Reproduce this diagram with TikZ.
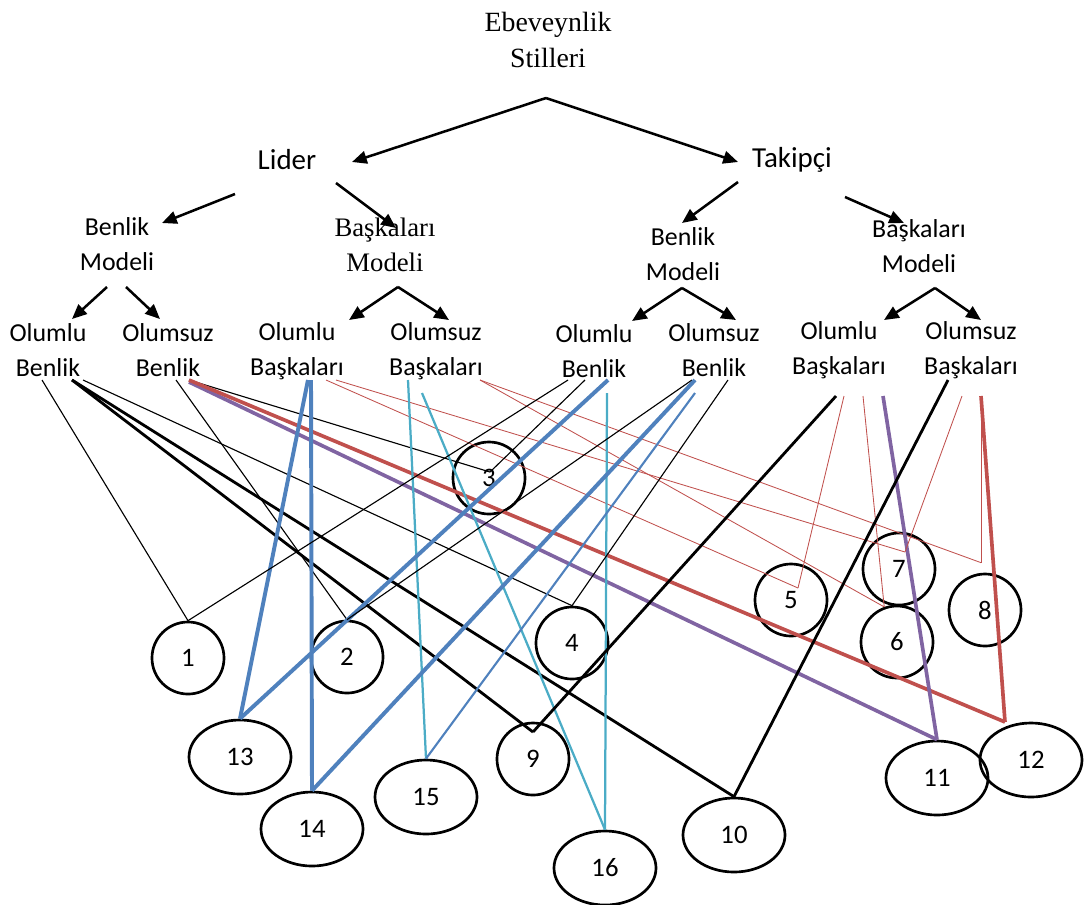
\documentclass[tikz,border=0pt]{standalone}
\usepackage{fontspec}
\setmainfont{Carlito}
\newfontfamily\timesfont{Liberation Serif}
\usetikzlibrary{shapes.geometric,arrows.meta,calc}

\definecolor{ofred}{RGB}{192,80,77}
\definecolor{ofpurple}{RGB}{128,100,162}
\definecolor{ofblue}{RGB}{79,129,189}
\definecolor{ofcyan}{RGB}{75,172,198}

\begin{document}
\begin{tikzpicture}[x=0.025cm, y=-0.025cm,
    lbl/.style={align=center, inner sep=0pt, font=\fontsize{18.4}{24.9}\selectfont},
    serif/.style={align=center, inner sep=0pt, font=\timesfont\fontsize{19}{24.9}\selectfont},
    arr/.style={line width=1.8pt, -{Triangle[length=10.5pt,width=9pt]}},
    num/.style={circle, draw, line width=1.9pt, minimum size=1.8cm, inner sep=0pt, font=\fontsize{19}{20}\selectfont},
    oval/.style={ellipse, draw, line width=1.9pt, minimum width=2.55cm, minimum height=1.85cm, inner sep=0pt, font=\fontsize{19}{20}\selectfont},
    link/.style={line width=0.8pt},
    heavy/.style={line width=2pt},
    redthin/.style={ofred, line width=0.6pt},
    redheavy/.style={ofred, line width=2.6pt},
    purpleheavy/.style={ofpurple, line width=2.6pt},
    blueheavy/.style={ofblue, line width=2.8pt},
    bluemid/.style={ofblue, line width=1.5pt},
    cyanline/.style={ofcyan, line width=1.6pt}]
  \useasboundingbox (0,0) rectangle (1084,904);

  \node[serif, font=\timesfont\fontsize{19.8}{25.6}\selectfont] (top) at (548,40) {Ebeveynlik\\Stilleri};
  \node[lbl, font=\fontsize{20.6}{24.9}\selectfont] (lider) at (287,160) {Lider};
  \node[lbl, font=\fontsize{20.6}{24.9}\selectfont] (takipci) at (792,160) {Takipçi};

  \node[lbl] (bm1) at (117,244) {Benlik\\Modeli};
  \node[serif] (bam1) at (385,245) {Başkaları\\Modeli};
  \node[lbl] (bm2) at (683,254) {Benlik\\Modeli};
  \node[lbl] (bam2) at (919,246) {Başkaları\\Modeli};

  \node[lbl] (ob1) at (48,350) {Olumlu\\Benlik};
  \node[lbl] (osb1) at (168,350) {Olumsuz\\Benlik};
  \node[lbl] (oba1) at (297,351) {Olumlu\\Başkaları};
  \node[lbl] (osba1) at (436,351) {Olumsuz\\Başkaları};
  \node[lbl] (ob2) at (594,351) {Olumlu\\Benlik};
  \node[lbl] (osb2) at (714,350) {Olumsuz\\Benlik};
  \node[lbl] (oba2) at (839,350) {Olumlu\\Başkaları};
  \node[lbl] (osba2) at (971,350) {Olumsuz\\Başkaları};

  \draw[arr] ($(top.center)+(-2,58)$) -- ($(lider.center)+(65,2)$);
  \draw[arr] ($(top.center)+(-2,58)$) -- ($(takipci.center)+(-54,2)$);
  \draw[arr] ($(lider.center)+(-52,34)$) -- ($(bm1.center)+(45,-21)$);
  \draw[arr] ($(lider.center)+(49,23)$) -- ($(bam1.center)+(11,-17)$);
  \draw[arr] ($(takipci.center)+(-54,22)$) -- ($(bm2.center)+(-1,-31)$);
  \draw[arr] ($(takipci.center)+(53,37)$) -- ($(bam2.center)+(-15,-23)$);
  \draw[arr] ($(bm1.center)+(-10,43)$) -- ($(ob1.center)+(24,-31)$);
  \draw[arr] ($(bm1.center)+(9,43)$) -- ($(osb1.center)+(-8,-31)$);
  \draw[arr] ($(bam1.center)+(13,42)$) -- ($(oba1.center)+(52,-31)$);
  \draw[arr] ($(bam1.center)+(13,42)$) -- ($(osba1.center)+(13,-31)$);
  \draw[arr] ($(bm2.center)+(-1,34)$) -- ($(ob2.center)+(38,-30)$);
  \draw[arr] ($(bm2.center)+(-1,34)$) -- ($(osb2.center)+(22,-30)$);
  \draw[arr] ($(bam2.center)+(16,42)$) -- ($(oba2.center)+(45,-30)$);
  \draw[arr] ($(bam2.center)+(16,42)$) -- ($(osba2.center)+(10,-30)$);

  % numbered circles
  \node[num] (n1) at (188,658) {1};
  \node[num] (n2) at (347,657) {2};
  \node[num] (n3) at (489,478) {3};
  \node[num] (n4) at (572,643) {4};
  \node[num] (n5) at (791,600) {5};
  \node[num] (n6) at (897,642) {6};
  \node[num] (n7) at (899,569) {7};
  \node[num] (n8) at (985,610) {8};
  \node[num] (n9) at (533,759) {9};
  \node[oval] (n10) at (734,835) {10};
  \node[oval] (n11) at (937,778) {11};
  \node[oval] (n12) at (1031,760) {12};
  \node[oval] (n13) at (240,757) {13};
  \node[oval] (n14) at (312,829) {14};
  \node[oval] (n15) at (426,797) {15};
  \node[oval] (n16) at (605,868) {16};

  \draw[link] ($(ob1.center)+(-6,30)$) -- (n1.north);
  \draw[heavy] ($(ob1.center)+(24,30)$) -- ($(n9.center)+(0,-27)$);
  \draw[heavy] ($(ob1.center)+(24,30)$) -- (n10.north);
  \draw[link] ($(ob1.center)+(35,30)$) -- (n4.north);

  \draw[link] ($(osb1.center)+(8,30)$) -- (n2.north);
  \draw[link] ($(osb1.center)+(21,30)$) -- ($(n3.center)+(1,-6)$);
  \draw[purpleheavy] ($(osb1.center)+(21,32)$) -- (n11.north);
  \draw[redheavy] ($(osb1.center)+(21,30)$) -- ($(n12.center)+(-26,-38)$);

  \draw[blueheavy] ($(oba1.center)+(11,29)$) -- (n13.north);
  \draw[blueheavy] ($(oba1.center)+(14,29)$) -- (n14.north);
  \draw[redthin] ($(oba1.center)+(29,29)$) -- ($(n5.center)+(7,-12)$);
  \draw[redthin] ($(oba1.center)+(39,29)$) -- ($(n7.center)+(6,-17)$);

  \draw[cyanline] ($(osba1.center)+(-28,29)$) -- (n15.north);
  \draw[cyanline] ($(osba1.center)+(-14,42)$) -- (n16.north);
  \draw[redthin] ($(osba1.center)+(44,29)$) -- (n6.110);
  \draw[redthin] ($(osba1.center)+(44,29)$) -- ($(n8.north)+(-4,-10)$);

  \draw[link] ($(ob2.center)+(-26,29)$) -- (n1.north);
  \draw[link] ($(ob2.center)+(-9,29)$) -- ($(n3.center)+(1,-6)$);
  \draw[blueheavy] ($(ob2.center)+(14,29)$) -- (n13.north);
  \draw[cyanline] ($(ob2.center)+(13,42)$) -- (n16.north);

  \draw[link] ($(osb2.center)+(-22,30)$) -- (n2.north);
  \draw[blueheavy] ($(osb2.center)+(-19,30)$) -- (n14.north);
  \draw[bluemid] ($(osb2.center)+(-19,43)$) -- (n15.north);
  \draw[link] ($(osb2.center)+(14,30)$) -- (n4.north);

  \draw[heavy] ($(oba2.center)+(-3,46)$) -- ($(n9.center)+(0,-27)$);
  \draw[redthin] ($(oba2.center)+(5,46)$) -- ($(n5.center)+(7,-12)$);
  \draw[redthin] ($(oba2.center)+(24,46)$) -- (n6.110);
  \draw[purpleheavy] ($(oba2.center)+(44,46)$) -- (n11.north);

  \draw[heavy] ($(osba2.center)+(-23,30)$) -- (n10.north);
  \draw[redthin] ($(osba2.center)+(-9,46)$) -- ($(n7.center)+(6,-17)$);
  \draw[redthin] ($(osba2.center)+(10,46)$) -- ($(n8.north)+(-4,-10)$);
  \draw[redheavy] ($(osba2.center)+(10,46)$) -- ($(n12.center)+(-26,-38)$);
\end{tikzpicture}
\end{document}
